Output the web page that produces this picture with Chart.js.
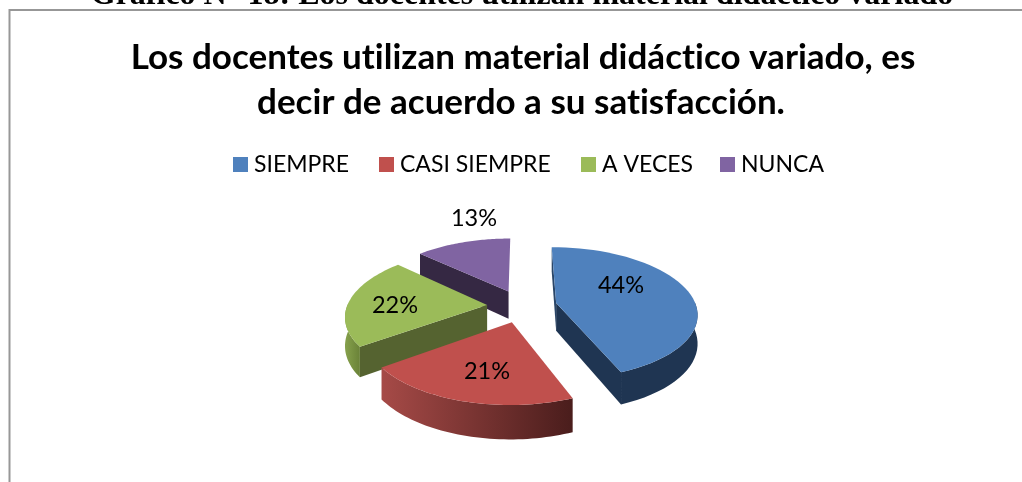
<!DOCTYPE html>
<html><head><meta charset="utf-8">
<style>html,body{margin:0;padding:0;background:#fff;overflow:hidden}canvas{display:block}</style>
<script src="https://cdn.jsdelivr.net/npm/chart.js@4"></script></head>
<body><canvas id="c" width="1022" height="482" style="width:1022px;height:482px"></canvas>
<script>
const categories = ['SIEMPRE', 'CASI SIEMPRE', 'A VECES', 'NUNCA'];
const shares = [44, 21, 22, 13];
const shownLabels = ['44%', '21%', '22%', '13%'];
const colors = ['#4F81BD', '#C0504D', '#9BBB59', '#8064A2'];
const sideColors = [['#1F3552','#1F3552'], ['#A64A47','#4A1D1C'], ['#86A14C','#6A8238'], ['#352843','#352843']];
const radialColors = ['#1F3552', '#7A2F2D', '#556330', '#352843'];
const headline = 'Gráfico N° 18: Los docentes utilizan material didáctico variado';
const titleLines = ['Los docentes utilizan material didáctico variado, es', 'decir de acuerdo a su satisfacción.'];

const view = {cx:522, cy:306, rx:140, ry:65, persp:0.15, explode:0.25, depth:28};
const labelAnchors = [[621,285],[487,371],[395,305],[474,218]];
const legendX = [233,379,581,720];

function project(u, v, down){
  const s = 1/(1 - view.persp*v);
  return [view.cx + view.rx*u*s, view.cy + view.ry*v*s + (down?view.depth*s:0)];
}
function rimPoint(angle, mid, down){
  const ox = view.explode*Math.cos(mid), oy = view.explode*Math.sin(mid);
  return project(ox+Math.cos(angle), oy+Math.sin(angle), down);
}
function apex(mid, down){ return project(view.explode*Math.cos(mid), view.explode*Math.sin(mid), down); }
function poly(ctx, pts, fill){
  ctx.beginPath(); pts.forEach((p,i)=> i?ctx.lineTo(p[0],p[1]):ctx.moveTo(p[0],p[1])); ctx.closePath();
  ctx.fillStyle=fill; ctx.fill();
}
const pie3d = {
  id:'pie3d',
  beforeDraw(chart){
    const ctx=chart.ctx; ctx.save();
    ctx.textRendering='optimizeSpeed';
    ctx.fillStyle='#fff'; ctx.fillRect(0,0,1022,482);
    ctx.strokeStyle='#979797'; ctx.lineWidth=2;
    ctx.beginPath(); ctx.moveTo(9.5,482); ctx.lineTo(9.5,10); ctx.lineTo(1022,10); ctx.stroke();
    ctx.fillStyle='#000'; ctx.textAlign='center'; ctx.textBaseline='alphabetic';
    ctx.font='bold 32px "Liberation Serif"'; ctx.fillText(headline,522,4);
    ctx.font='bold 35px Lato'; ctx.fillText(titleLines[0],523,69); ctx.fillText(titleLines[1],521,114);
    ctx.font='23px Lato'; ctx.textAlign='left'; ctx.textBaseline='middle';
    categories.forEach((t,i)=>{ ctx.fillStyle=colors[i]; ctx.fillRect(legendX[i],157,15,15);
      ctx.fillStyle='#000'; ctx.fillText(t,legendX[i]+21,164.5); });
    ctx.restore();
  },
  beforeDatasetDraw(chart){
    const ctx=chart.ctx, arcs=chart.getDatasetMeta(0).data; ctx.save();
    ctx.textRendering='optimizeSpeed';
    [3,2,0,1].forEach(i=>{
      const a0=arcs[i].startAngle, a1=arcs[i].endAngle, mid=(a0+a1)/2, n=48, top=[], bot=[];
      for(let k=0;k<=n;k++){
        const a=a0+(a1-a0)*k/n;
        if(Math.sin(a)>=-0.05){ top.push(rimPoint(a,mid,false)); bot.push(rimPoint(a,mid,true)); }
      }
      const A=apex(mid,false), B=apex(mid,true);
      const first=rimPoint(a0,mid,false), firstB=rimPoint(a0,mid,true), last=rimPoint(a1,mid,false), lastB=rimPoint(a1,mid,true);
      if(i===0) poly(ctx,[A,last,lastB,B],radialColors[i]);
      if(i===2||i===3) poly(ctx,[A,first,firstB,B],radialColors[i]);
      if(top.length>1){
        const xs=top.map(p=>p[0]), g=ctx.createLinearGradient(Math.min(...xs),0,Math.max(...xs),0);
        g.addColorStop(0,sideColors[i][0]); g.addColorStop(1,sideColors[i][1]);
        poly(ctx,top.concat(bot.slice().reverse()),g);
      }
      if(i===0) poly(ctx,[A,B,firstB,first],'#2A4668');
      const face=[A];
      for(let k=0;k<=n;k++) face.push(rimPoint(a0+(a1-a0)*k/n,mid,false));
      poly(ctx,face,colors[i]);
    });
    ctx.fillStyle='#000'; ctx.font='23.5px Lato'; ctx.textAlign='center'; ctx.textBaseline='middle';
    shownLabels.forEach((t,i)=>ctx.fillText(t,labelAnchors[i][0],labelAnchors[i][1]));
    ctx.restore();
    return false;
  }
};
new Chart(document.getElementById('c'),{
  type:'pie',
  data:{labels:categories,datasets:[{data:shares,backgroundColor:colors,borderWidth:0}]},
  options:{responsive:false,animation:false,rotation:0,
    plugins:{legend:{display:false},title:{display:false},tooltip:{enabled:false}}},
  plugins:[pie3d]
});
</script></body></html>
